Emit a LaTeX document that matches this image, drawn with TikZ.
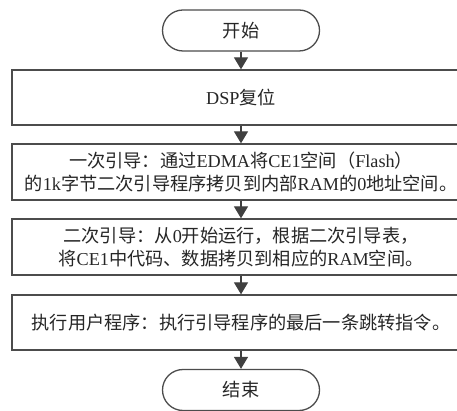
\documentclass[tikz,border=0pt]{standalone}
\usepackage{fontspec}
\setmainfont{Liberation Serif}
\newfontfamily\cjk{Noto Sans CJK SC}
\usetikzlibrary{arrows.meta}
\newcommand\zh[1]{{\cjk #1}}
\begin{document}
\begin{tikzpicture}[x=1pt,y=-1pt,
  every node/.style={font=\fontsize{18.2}{23}\selectfont, inner sep=0pt, text=black!85},
  procbox/.style={draw=black!70, line width=1.3pt, minimum width=458pt, minimum height=55pt, align=center},
  term/.style={draw=black!70, line width=1.3pt, minimum width=157pt, minimum height=41pt, rounded corners=20.5pt},
  flow/.style={draw=black!75, line width=1.2pt, -{Triangle[width=14pt,length=12pt]}}
]
\useasboundingbox (0,0) rectangle (457,411);
\node[term] (start) at (241,30.5) {\zh{开始}};
\node[procbox] (reset) at (241,97.5) {DSP\zh{复位}};
\node[procbox, minimum height=56pt] (boot1) at (241,172) {\zh{一次引导：通过}EDMA\zh{将}CE1\zh{空间（}Flash\zh{）}\\\zh{的}1k\zh{字节二次引导程序拷贝到内部}RAM\zh{的}0\zh{地址空间。}};
\node[procbox, minimum height=56pt] (boot2) at (241,247) {\zh{二次引导：从}0\zh{开始运行，根据二次引导表，}\\\zh{将}CE1\zh{中代码、数据拷贝到相应的}RAM\zh{空间。}};
\node[procbox] (run) at (241,322.5) {\zh{执行用户程序：执行引导程序的最后一条跳转指令。}};
\node[term] (stop) at (241,390) {\zh{结束}};
\draw[flow] (start.south) -- (reset.north);
\draw[flow] (reset.south) -- (boot1.north);
\draw[flow] (boot1.south) -- (boot2.north);
\draw[flow] (boot2.south) -- (run.north);
\draw[flow] (run.south) -- (stop.north);
\end{tikzpicture}
\end{document}
